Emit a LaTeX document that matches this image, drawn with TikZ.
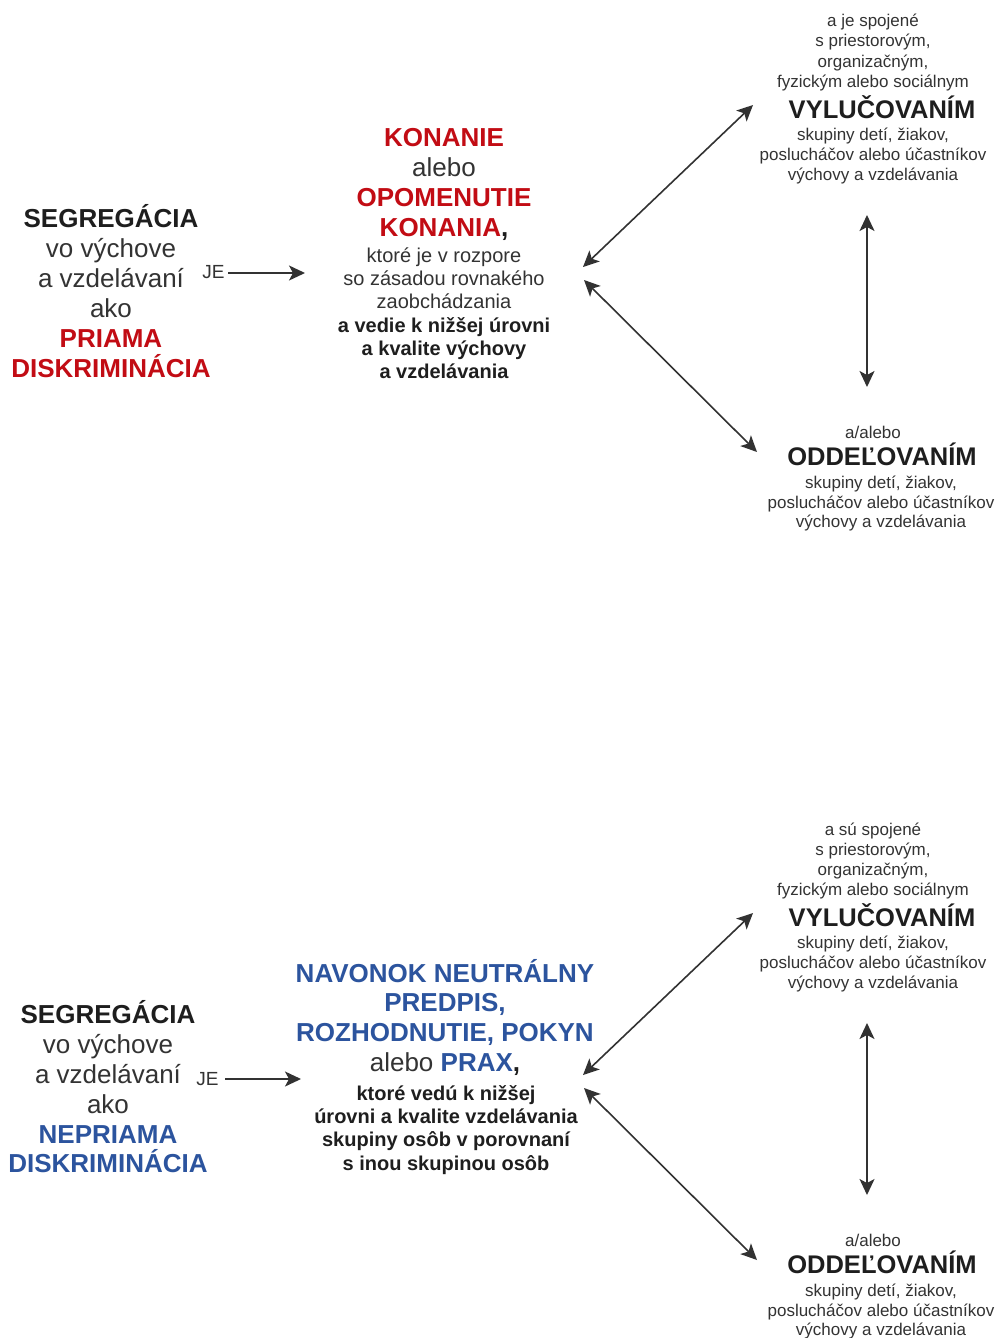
\documentclass[tikz,border=0pt]{standalone}
\usepackage{fontspec}
\setmainfont{Liberation Sans}
\usetikzlibrary{arrows.meta}
\definecolor{dred}{RGB}{194,12,20}
\definecolor{dblue}{RGB}{44,84,158}
\definecolor{txt}{RGB}{51,51,51}
\definecolor{txtb}{RGB}{30,30,30}
\definecolor{arr}{RGB}{50,50,50}
\begin{document}
\begin{tikzpicture}[x=1pt,y=-1pt,
  every node/.style={inner sep=0pt, anchor=base},
  big/.style={font=\fontsize{26}{30}\selectfont, text=txt},
  bigb/.style={font=\fontsize{26}{30}\selectfont\bfseries, text=txtb},
  bigred/.style={font=\fontsize{26}{30}\selectfont\bfseries, text=dred},
  bigblue/.style={font=\fontsize{26}{30}\selectfont\bfseries, text=dblue},
  mid/.style={font=\fontsize{20}{23}\selectfont, text=txt},
  midb/.style={font=\fontsize{20}{23}\selectfont\bfseries, text=txtb},
  small/.style={font=\fontsize{17}{20}\selectfont, text=txt},
  head/.style={font=\fontsize{25.5}{30}\selectfont\bfseries, text=txtb},
  jelabel/.style={font=\fontsize{19}{22}\selectfont, text=txt},
  tipstyle/.style={},
  link/.style={draw=arr, line width=1.6pt, -{Stealth[length=16pt,width=15pt,inset=4pt]}},
  bilink/.style={draw=arr, line width=1.6pt, {Stealth[length=16pt,width=15pt,inset=4pt]}-{Stealth[length=16pt,width=15pt,inset=4pt]}}
]
\useasboundingbox[fill=white] (0,0) rectangle (1000,1338);

% ================= TOP PART =================
% left block
\node[bigb] (tl1) at (111,227.5) {SEGREGÁCIA};
\node[big]  (tl2) at (111,257.5) {vo výchove};
\node[big]  (tl3) at (111,287.5) {a vzdelávaní};
\node[big]  (tl4) at (111,317.5) {ako};
\node[bigred] (tl5) at (111,347.5) {PRIAMA};
\node[bigred] (tl6) at (111,377) {DISKRIMINÁCIA};
\node[jelabel] (je1) at (213.5,278.5) {JE};
\coordinate (a1s) at (228,273);
\coordinate (a1e) at (305,273);
\draw[link] (a1s) -- (a1e);

% center block
\node[bigred] (tc1) at (444,146.5) {KONANIE};
\node[big]    (tc2) at (444,176.5) {alebo};
\node[bigred] (tc3) at (444,206.5) {OPOMENUTIE};
\node[bigred] (tc4) at (444,236.5) {KONANIA\textcolor{txtb}{,}};
\node[mid]  (tc5) at (444,262) {ktoré je v rozpore};
\node[mid]  (tc6) at (444,285.3) {so zásadou rovnakého};
\node[mid]  (tc7) at (444,308.6) {zaobchádzania};
\node[midb] (tc8) at (444,332) {a vedie k nižšej úrovni};
\node[midb] (tc9) at (444,355.3) {a kvalite výchovy};
\node[midb] (tc10) at (444,378.6) {a vzdelávania};

% right upper block
\node[small] (tr1) at (873,27) {a je spojené};
\node[small] (tr2) at (873,47) {s priestorovým,};
\node[small] (tr3) at (873,67) {organizačným,};
\node[small] (tr4) at (873,87) {fyzickým alebo sociálnym};
\node[head]  (tr5) at (882,118) {VYLUČOVANÍM};
\node[small] (tr6) at (873,140) {skupiny detí, žiakov,};
\node[small] (tr7) at (873,160) {poslucháčov alebo účastníkov};
\node[small] (tr8) at (873,180) {výchovy a vzdelávania};

% right lower block
\node[small] (tb1) at (873,438) {a/alebo};
\node[head]  (tb2) at (882,465) {ODDEĽOVANÍM};
\node[small] (tb3) at (881,488) {skupiny detí, žiakov,};
\node[small] (tb4) at (881,508) {poslucháčov alebo účastníkov};
\node[small] (tb5) at (881,527) {výchovy a vzdelávania};

% arrows
\coordinate (t1a) at (583,267);
\coordinate (t1b) at (753,105);
\coordinate (t2a) at (584,280);
\coordinate (t2b) at (757,452);
\coordinate (t3a) at (867,215);
\coordinate (t3b) at (867,387);
\draw[bilink] (t1a) -- (t1b);
\draw[bilink] (t2a) -- (t2b);
\draw[bilink] (t3a) -- (t3b);

% ================= BOTTOM PART =================
% left block
\node[bigb] (bl1) at (108,1023.3) {SEGREGÁCIA};
\node[big]  (bl2) at (108,1053.3) {vo výchove};
\node[big]  (bl3) at (108,1083.3) {a vzdelávaní};
\node[big]  (bl4) at (108,1113.3) {ako};
\node[bigblue] (bl5) at (108,1143) {NEPRIAMA};
\node[bigblue] (bl6) at (108,1172) {DISKRIMINÁCIA};
\node[jelabel] (je2) at (207.5,1085.5) {JE};
\coordinate (b1s) at (225,1079);
\coordinate (b1e) at (301,1079);
\draw[link] (b1s) -- (b1e);

% center block
\node[bigblue] (bc1) at (445,982) {NAVONOK NEUTRÁLNY};
\node[bigblue] (bc2) at (445,1011.7) {PREDPIS,};
\node[bigblue] (bc3) at (445,1041.5) {ROZHODNUTIE, POKYN};
\node[big]     (bc4) at (445,1071) {alebo \textbf{\textcolor{dblue}{PRAX}}\textbf{\textcolor{txtb}{,}}};
\node[midb] (bc5) at (446,1100) {ktoré vedú k nižšej};
\node[midb] (bc6) at (446,1123.3) {úrovni a kvalite vzdelávania};
\node[midb] (bc7) at (446,1146.7) {skupiny osôb v porovnaní};
\node[midb] (bc8) at (446,1170) {s inou skupinou osôb};

% right upper block
\node[small] (br1) at (873,835) {a sú spojené};
\node[small] (br2) at (873,855) {s priestorovým,};
\node[small] (br3) at (873,875) {organizačným,};
\node[small] (br4) at (873,895) {fyzickým alebo sociálnym};
\node[head]  (br5) at (882,926) {VYLUČOVANÍM};
\node[small] (br6) at (873,948) {skupiny detí, žiakov,};
\node[small] (br7) at (873,968) {poslucháčov alebo účastníkov};
\node[small] (br8) at (873,988) {výchovy a vzdelávania};

% right lower block
\node[small] (bb1) at (873,1246) {a/alebo};
\node[head]  (bb2) at (882,1273) {ODDEĽOVANÍM};
\node[small] (bb3) at (881,1296) {skupiny detí, žiakov,};
\node[small] (bb4) at (881,1316) {poslucháčov alebo účastníkov};
\node[small] (bb5) at (881,1335) {výchovy a vzdelávania};

% arrows
\coordinate (u1a) at (583,1075);
\coordinate (u1b) at (753,913);
\coordinate (u2a) at (584,1088);
\coordinate (u2b) at (757,1260);
\coordinate (u3a) at (867,1023);
\coordinate (u3b) at (867,1195);
\draw[bilink] (u1a) -- (u1b);
\draw[bilink] (u2a) -- (u2b);
\draw[bilink] (u3a) -- (u3b);
\end{tikzpicture}
\end{document}
